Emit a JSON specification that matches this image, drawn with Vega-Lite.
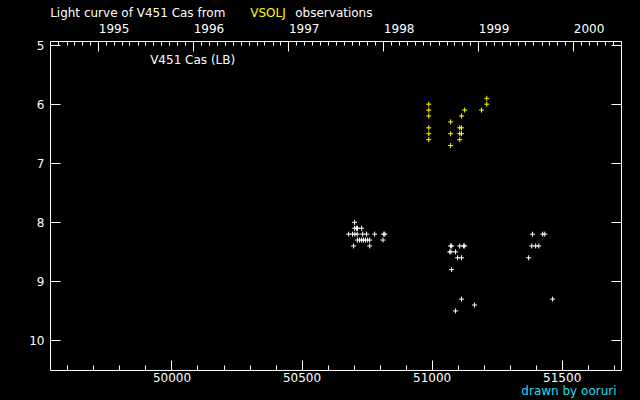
{
  "$schema": "https://vega.github.io/schema/vega-lite/v6.json",
  "width": 571,
  "height": 329,
  "autosize": {"type": "none"},
  "padding": {"left": 50, "top": 41, "right": 19, "bottom": 30},
  "background": "black",
  "config": {
    "view": {"stroke": "white", "strokeWidth": 1},
    "axis": {
      "domain": false,
      "grid": false,
      "title": null,
      "tickColor": "white",
      "tickWidth": 1,
      "labelColor": "white",
      "labelFont": "DejaVu Sans",
      "labelFontSize": 12,
      "labelFlush": false,
      "labelOverlap": false,
      "labelBound": false
    },
    "text": {"font": "DejaVu Sans", "fontSize": 12}
  },
  "datasets": {
    "obs": [
      {"jd": 50704, "mag": 8.0, "source": "other"},
      {"jd": 50704, "mag": 8.1, "source": "other"},
      {"jd": 50711, "mag": 8.1, "source": "other"},
      {"jd": 50715, "mag": 8.1, "source": "other"},
      {"jd": 50731, "mag": 8.1, "source": "other"},
      {"jd": 50681, "mag": 8.2, "source": "other"},
      {"jd": 50696, "mag": 8.2, "source": "other"},
      {"jd": 50705, "mag": 8.2, "source": "other"},
      {"jd": 50714, "mag": 8.2, "source": "other"},
      {"jd": 50735, "mag": 8.2, "source": "other"},
      {"jd": 50750, "mag": 8.2, "source": "other"},
      {"jd": 50781, "mag": 8.2, "source": "other"},
      {"jd": 50816, "mag": 8.2, "source": "other"},
      {"jd": 50820, "mag": 8.2, "source": "other"},
      {"jd": 50715, "mag": 8.3, "source": "other"},
      {"jd": 50723, "mag": 8.3, "source": "other"},
      {"jd": 50731, "mag": 8.3, "source": "other"},
      {"jd": 50738, "mag": 8.3, "source": "other"},
      {"jd": 50746, "mag": 8.3, "source": "other"},
      {"jd": 50754, "mag": 8.3, "source": "other"},
      {"jd": 50762, "mag": 8.3, "source": "other"},
      {"jd": 50813, "mag": 8.3, "source": "other"},
      {"jd": 50700, "mag": 8.4, "source": "other"},
      {"jd": 50762, "mag": 8.4, "source": "other"},
      {"jd": 51073, "mag": 8.4, "source": "other"},
      {"jd": 51077, "mag": 8.4, "source": "other"},
      {"jd": 51108, "mag": 8.4, "source": "other"},
      {"jd": 51123, "mag": 8.4, "source": "other"},
      {"jd": 51127, "mag": 8.4, "source": "other"},
      {"jd": 51070, "mag": 8.5, "source": "other"},
      {"jd": 51074, "mag": 8.5, "source": "other"},
      {"jd": 51092, "mag": 8.5, "source": "other"},
      {"jd": 51100, "mag": 8.6, "source": "other"},
      {"jd": 51115, "mag": 8.6, "source": "other"},
      {"jd": 51077, "mag": 8.8, "source": "other"},
      {"jd": 51115, "mag": 9.3, "source": "other"},
      {"jd": 51165, "mag": 9.4, "source": "other"},
      {"jd": 51092, "mag": 9.5, "source": "other"},
      {"jd": 51388, "mag": 8.2, "source": "other"},
      {"jd": 51427, "mag": 8.2, "source": "other"},
      {"jd": 51435, "mag": 8.2, "source": "other"},
      {"jd": 51385, "mag": 8.4, "source": "other"},
      {"jd": 51400, "mag": 8.4, "source": "other"},
      {"jd": 51412, "mag": 8.4, "source": "other"},
      {"jd": 51373, "mag": 8.6, "source": "other"},
      {"jd": 51465, "mag": 9.3, "source": "other"},
      {"jd": 50989, "mag": 6.0, "source": "VSOLJ"},
      {"jd": 50989, "mag": 6.1, "source": "VSOLJ"},
      {"jd": 50989, "mag": 6.2, "source": "VSOLJ"},
      {"jd": 50989, "mag": 6.4, "source": "VSOLJ"},
      {"jd": 50989, "mag": 6.5, "source": "VSOLJ"},
      {"jd": 50989, "mag": 6.6, "source": "VSOLJ"},
      {"jd": 51073, "mag": 6.3, "source": "VSOLJ"},
      {"jd": 51073, "mag": 6.5, "source": "VSOLJ"},
      {"jd": 51073, "mag": 6.7, "source": "VSOLJ"},
      {"jd": 51108, "mag": 6.4, "source": "VSOLJ"},
      {"jd": 51108, "mag": 6.5, "source": "VSOLJ"},
      {"jd": 51108, "mag": 6.6, "source": "VSOLJ"},
      {"jd": 51115, "mag": 6.2, "source": "VSOLJ"},
      {"jd": 51115, "mag": 6.4, "source": "VSOLJ"},
      {"jd": 51115, "mag": 6.5, "source": "VSOLJ"},
      {"jd": 51127, "mag": 6.1, "source": "VSOLJ"},
      {"jd": 51192, "mag": 6.1, "source": "VSOLJ"},
      {"jd": 51212, "mag": 5.9, "source": "VSOLJ"},
      {"jd": 51212, "mag": 6.0, "source": "VSOLJ"}
    ],
    "notes": [
      {"text": "Light curve of V451 Cas from", "kind": "plain", "jd": 49533.5, "mag": 4.458},
      {"text": "VSOLJ", "kind": "source", "jd": 50302.7, "mag": 4.458},
      {"text": "observations", "kind": "plain", "jd": 50475.8, "mag": 4.458},
      {"text": "V451 Cas (LB)", "kind": "plain", "jd": 49918, "mag": 5.254},
      {"text": "drawn by ooruri", "kind": "credit", "jd": 51345, "mag": 10.85}
    ]
  },
  "layer": [
    {
      "data": {"name": "obs"},
      "mark": {"type": "point", "shape": "M-1,0H1M0,-1V1", "size": 25, "filled": false, "strokeWidth": 1, "opacity": 1},
      "encoding": {
        "x": {
          "field": "jd", "type": "quantitative",
          "scale": {"domain": [49533, 51728], "nice": false, "zero": false},
          "axis": {
            "orient": "bottom",
            "values": [49600, 49700, 49800, 49900, 50000, 50100, 50200, 50300, 50400, 50500, 50600, 50700, 50800, 50900, 51000, 51100, 51200, 51300, 51400, 51500, 51600, 51700],
            "labelExpr": "datum.value % 500 === 0 ? format(datum.value, 'd') : ''",
            "tickSize": {"condition": {"test": "datum.value % 500 === 0", "value": -10}, "value": -5},
            "labelPadding": 12
          }
        },
        "y": {
          "field": "mag", "type": "quantitative",
          "scale": {"domain": [4.93, 10.5], "reverse": true, "nice": false, "zero": false},
          "axis": {"orient": "left", "values": [5, 6, 7, 8, 9, 10], "tickSize": -10, "labelPadding": 16}
        },
        "color": {
          "field": "source", "type": "nominal",
          "scale": {"domain": ["VSOLJ", "other"], "range": ["#ffff00", "#ffffff"]},
          "legend": null
        }
      }
    },
    {
      "data": {"name": "notes"},
      "mark": {"type": "text", "align": "left", "baseline": "middle"},
      "encoding": {
        "x": {
          "field": "jd", "type": "quantitative",
          "scale": {"domain": [49533, 51728], "nice": false, "zero": false},
          "axis": {
            "orient": "top",
            "values": [49565.5, 49596.5, 49626.5, 49657.5, 49687.5, 49718.5, 49749.5, 49777.5, 49808.5, 49838.5, 49869.5, 49899.5, 49930.5, 49961.5, 49991.5, 50022.5, 50052.5, 50083.5, 50114.5, 50143.5, 50174.5, 50204.5, 50235.5, 50265.5, 50296.5, 50327.5, 50357.5, 50388.5, 50418.5, 50449.5, 50480.5, 50508.5, 50539.5, 50569.5, 50600.5, 50630.5, 50661.5, 50692.5, 50722.5, 50753.5, 50783.5, 50814.5, 50845.5, 50873.5, 50904.5, 50934.5, 50965.5, 50995.5, 51026.5, 51057.5, 51087.5, 51118.5, 51148.5, 51179.5, 51210.5, 51238.5, 51269.5, 51299.5, 51330.5, 51360.5, 51391.5, 51422.5, 51452.5, 51483.5, 51513.5, 51544.5, 51575.5, 51604.5, 51635.5, 51665.5, 51696.5, 51726.5],
            "labelExpr": "indexof([49718.5, 50083.5, 50449.5, 50814.5, 51179.5, 51544.5], datum.value) >= 0 ? '' + (1995 + indexof([49718.5, 50083.5, 50449.5, 50814.5, 51179.5, 51544.5], datum.value)) : ''",
            "tickSize": {"condition": {"test": "indexof([49718.5, 50083.5, 50449.5, 50814.5, 51179.5, 51544.5], datum.value) >= 0", "value": -10}, "value": -4},
            "labelAlign": "left",
            "labelPadding": 16
          }
        },
        "y": {
          "field": "mag", "type": "quantitative",
          "scale": {"domain": [4.93, 10.5], "reverse": true, "nice": false, "zero": false},
          "axis": {"orient": "right", "values": [5, 6, 7, 8, 9, 10], "tickSize": -10, "labels": false}
        },
        "text": {"field": "text", "type": "nominal"},
        "color": {
          "field": "kind", "type": "nominal",
          "scale": {"domain": ["plain", "source", "credit"], "range": ["#ffffff", "#ffff00", "#22ddee"]},
          "legend": null
        }
      }
    }
  ],
  "resolve": {"scale": {"x": "independent", "y": "independent", "color": "independent"}}
}
